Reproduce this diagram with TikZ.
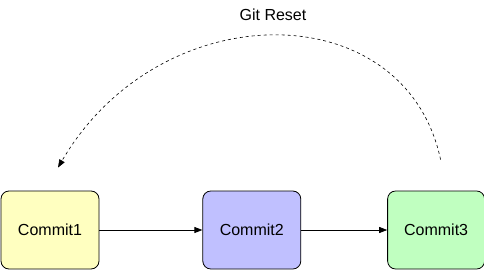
\documentclass[tikz,border=0pt]{standalone}
\usepackage{fontspec}
\setmainfont{Liberation Sans}
\usepackage{tikz}
\usetikzlibrary{positioning, arrows.meta}
\definecolor{cmYellow}{RGB}{255,255,192}
\definecolor{cmBlue}{RGB}{192,192,255}
\definecolor{cmGreen}{RGB}{192,255,192}

\begin{document}
\begin{tikzpicture}[
    x=1pt, y=1pt,
    commit/.style={rectangle, draw=black, line width=0.8pt, minimum width=98pt, minimum height=78pt, rounded corners=8pt, font=\fontsize{16}{19}\selectfont, inner sep=0pt},
    arrow/.style={-{Stealth[length=8pt,width=6pt,inset=0pt]}, line width=0.8pt},
    label/.style={font=\fontsize{16}{19}\selectfont}
]
\useasboundingbox (0,0) rectangle (484,271);
% Nodes
\node[commit, fill=cmYellow] (c1) at (50,41) {Commit1};
\node[commit, fill=cmBlue, right=103pt of c1] (c2) {Commit2};
\node[commit, fill=cmGreen, right=86pt of c2, minimum width=97pt] (c3) {Commit3};

% Reset curve ends
\coordinate (rfrom) at ([xshift=4.5pt, yshift=31pt]c3.north);
\coordinate (rto) at ([xshift=8pt, yshift=23pt]c1.north);
\node[label] (reset) at (273,256) {Git Reset};

% Arrows
\draw[arrow] (c1) -- (c2);
\draw[arrow] (c2) -- (c3);
\draw[arrow, dashed, dash pattern=on 3pt off 3pt, line width=0.6pt] (rfrom) .. controls (405,278) and (160,278) .. (rto);
\end{tikzpicture}
\end{document}
